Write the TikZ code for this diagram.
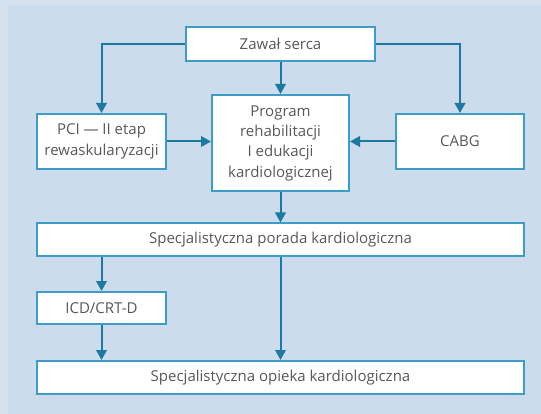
\documentclass[tikz,border=0pt]{standalone}
\usepackage{fontspec}
\setmainfont{Open Sans}
\usetikzlibrary{arrows.meta}
\definecolor{bg}{HTML}{CCDCEC}
\definecolor{bgl}{HTML}{D5E1EE}
\definecolor{boxc}{HTML}{3C9DC6}
\definecolor{arr}{HTML}{1B79A3}
\definecolor{txt}{HTML}{585858}
\begin{document}
\begin{tikzpicture}[x=1pt,y=-1pt,
  box/.style={draw=boxc, line width=2pt, fill=white, inner sep=0pt, text=txt,
    font=\fontsize{15}{20.3}\selectfont, align=center},
  link/.style={draw=arr, line width=2pt, -{Triangle[length=10pt,width=10.5pt]}}]
\fill[bg] (0,0) rectangle (541,414);
\fill[bgl] (0,0) rectangle (541,5);
\fill[bgl] (0,0) rectangle (8,414);
\useasboundingbox (0,0) rectangle (541,414);
\node[box, minimum width=189pt, minimum height=34pt] (zs) at (280.5,43.8) {Zawał serca};
\node[box, minimum width=137pt, minimum height=96pt] (prog) at (280.5,143) {Program\\rehabilitacji\\I edukacji\\kardiologicznej};
\node[box, minimum width=129pt, minimum height=55pt] (pci) at (101.5,141.5) {PCI — II etap\\rewaskularyzacji};
\node[box, minimum width=128pt, minimum height=55pt] (cabg) at (460,141.5) {CABG};
\node[box, minimum width=487pt, minimum height=33pt] (porada) at (280.5,240) {Specjalistyczna porada kardiologiczna};
\node[box, minimum width=129pt, minimum height=32pt] (icd) at (101.5,308) {ICD/CRT-D};
\node[box, minimum width=487pt, minimum height=33pt] (opieka) at (280.5,377.5) {Specjalistyczna opieka kardiologiczna};
\draw[link] (zs.west) -| (pci.north);
\draw[link] (zs.east) -| (cabg.north);
\draw[link] (zs.south) -- (prog.north);
\draw[link] (pci.east) -- (pci.east -| prog.west);
\draw[link] (cabg.west) -- (cabg.west -| prog.east);
\draw[link] (prog.south) -- (porada.north);
\draw[link] (porada.south -| icd.north) -- (icd.north);
\draw[link] (icd.south) -- (opieka.north -| icd.south);
\draw[link] (porada.south) -- (opieka.north);
\end{tikzpicture}
\end{document}
